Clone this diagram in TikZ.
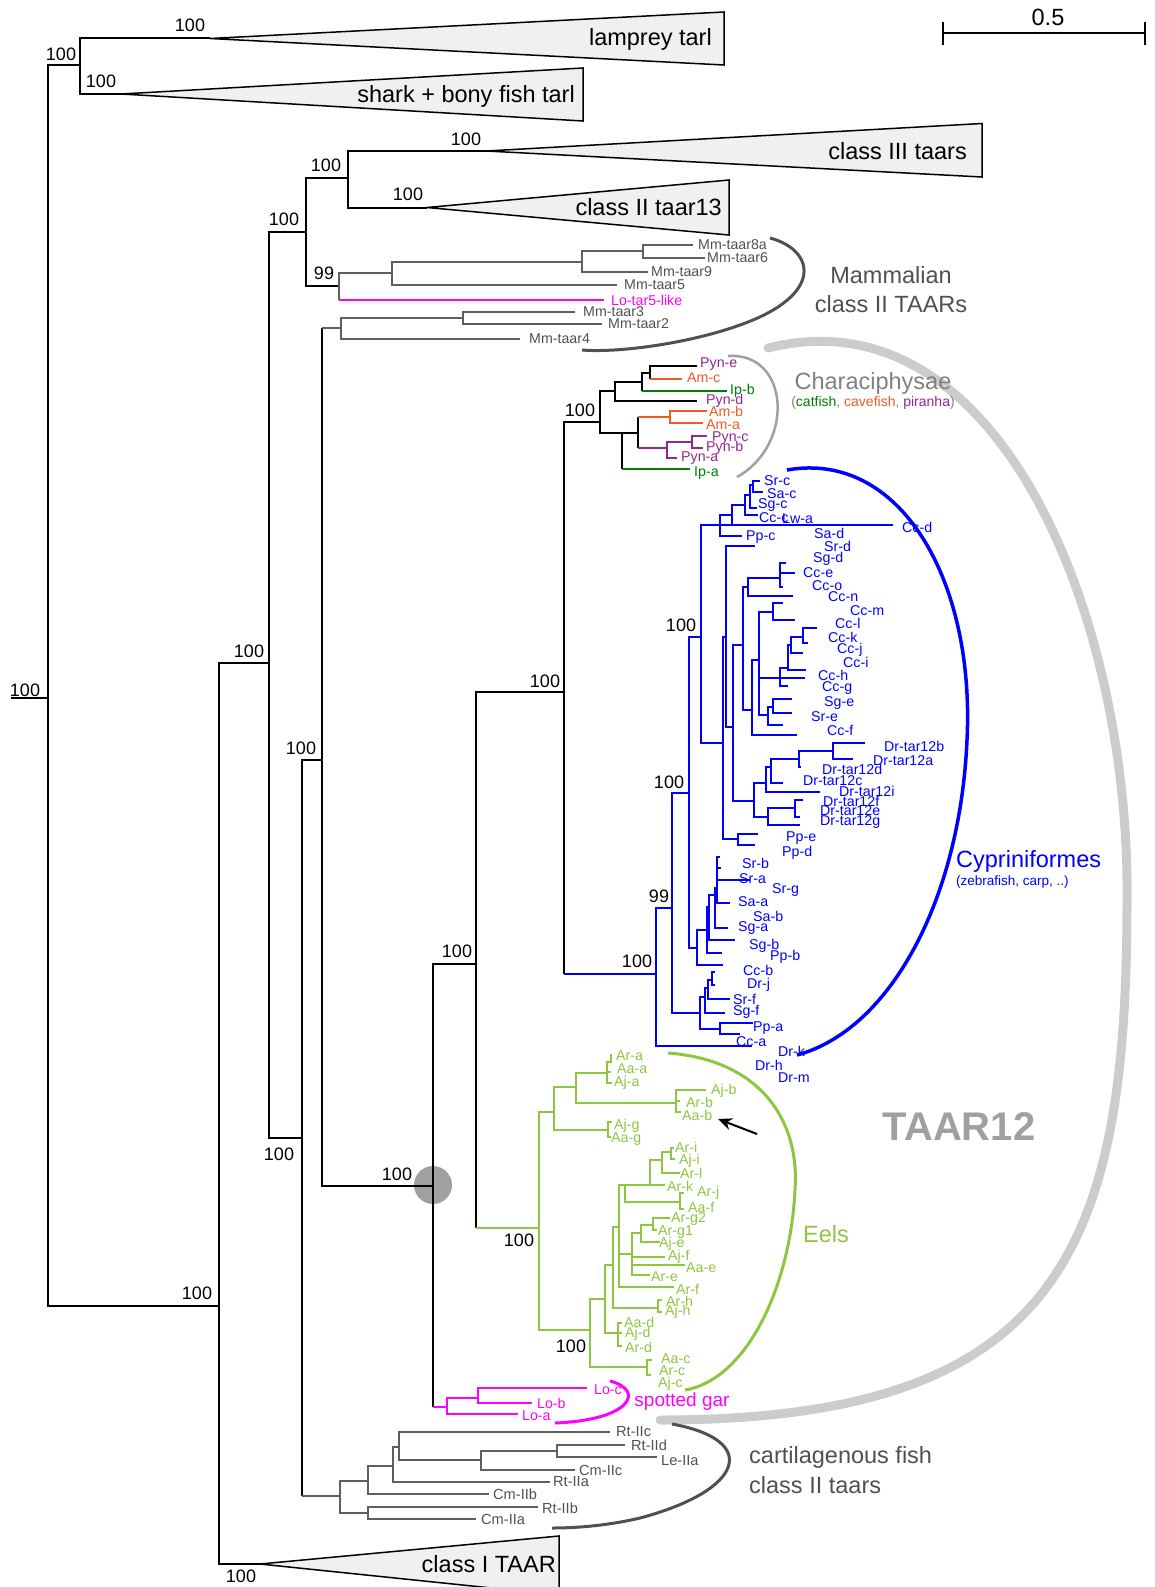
\documentclass[tikz,border=0pt]{standalone}
\usepackage{fontspec}
\setmainfont{Liberation Sans}
\usetikzlibrary{arrows.meta}
\definecolor{cblue}{RGB}{0,0,255}
\definecolor{cgreen}{RGB}{141,198,63}
\definecolor{cmag}{RGB}{255,0,255}
\definecolor{cgrey}{RGB}{95,95,95}
\definecolor{corange}{RGB}{241,90,34}
\definecolor{cpurple}{RGB}{146,39,143}
\definecolor{ccat}{RGB}{0,128,0}
\definecolor{tgrey}{RGB}{80,80,80}
\definecolor{lgrey}{RGB}{204,204,204}
\definecolor{mgrey}{RGB}{160,160,160}
\definecolor{fillg}{RGB}{240,240,240}
\newcounter{lc}
\newcommand\nd[6]{\draw[#1] (#3,#4) -- (#2,#4) -- (#2,#5) -- (#6,#5);}
\newcommand\lab[4][]{\stepcounter{lc}\node[lbl,text=#2,#1] (L\arabic{lc}) at (#3) {#4};}
\newcommand\bs[2]{\stepcounter{lc}\node[bst] (B\arabic{lc}) at (#1) {#2};}
\begin{document}
\begin{tikzpicture}[x=1pt,y=-1pt,
  k/.style={line width=2pt,black},
  g/.style={line width=2pt,cgrey},
  b/.style={line width=2pt,cblue},
  gr/.style={line width=2pt,cgreen},
  m/.style={line width=2pt,cmag},
  cv/.style={line width=2pt,corange},
  pu/.style={line width=2pt,cpurple},
  cf/.style={line width=2pt,ccat},
  tri/.style={draw=black,line width=1.5pt,fill=fillg},
  lbl/.style={font=\fontsize{14.2}{15}\selectfont,inner sep=0pt,anchor=west},
  bst/.style={font=\fontsize{18}{20}\selectfont,inner sep=0pt},
  big/.style={font=\fontsize{23.5}{26}\selectfont,inner sep=0pt}]
\useasboundingbox (0,0) rectangle (1155,1587);
% TAAR12 arc
\draw[lgrey,line width=9pt,line cap=round] (768,348) .. controls (1000,290) and (1130,620) .. (1127,900) .. controls (1127,1250) and (1060,1420) .. (660,1420);
\fill[mgrey] (433,1185) circle (19);
% triangles
\draw[tri] (210,38.5) -- (724,12) -- (724,65) -- cycle;
\draw[tri] (121,94) -- (583,68) -- (583,121) -- cycle;
\draw[tri] (486,151) -- (982,123.5) -- (982,177) -- cycle;
\draw[tri] (427,207.5) -- (729,180) -- (729,235) -- cycle;
\draw[tri] (260,1564) -- (559,1536) -- (559,1595) -- cycle;
\node[big,anchor=east] (t1) at (712,39) {lamprey tarl};
\node[big,anchor=east] (t2) at (575,96) {shark + bony fish tarl};
\node[big,anchor=east] (t3) at (967,151) {class III taars};
\node[big,anchor=east] (t4) at (722,207) {class II taar13};
\node[big,anchor=east] (t5) at (556,1564) {class I TAAR};
% backbone
\draw[k] (11,698) -- (48,698);
\nd{k}{48}{80}{65}{1306}{219}
\nd{k}{80}{210}{38.5}{94}{121}
\nd{k}{219}{269}{663}{1564}{260}
\nd{k}{269}{306}{232}{1138}{302}
\nd{k}{306}{348}{178}{286}{339}
\nd{k}{348}{486}{151}{207.5}{427}
\draw[k] (322,760) -- (302,760) -- (302,1496);
\draw[g] (302,1496) -- (340,1496);
\draw[k] (322,328) -- (322,1186) -- (433,1186);
\draw[g] (322,328) -- (341,328);
\draw[k] (476,964) -- (433,964) -- (433,1407);
\draw[m] (433,1407) -- (447,1407);
\draw[k] (564,692) -- (476,692) -- (476,1228);
\draw[gr] (476,1228) -- (539,1228);
\draw[k] (600,422) -- (564,422) -- (564,974);
\draw[b] (564,974) -- (656,974);
% mammalian
\draw[g] (392,273) -- (339,273) -- (339,300);
\draw[m] (339,300) -- (604,300);
\nd{g}{392}{582}{262}{285}{617}
\nd{g}{582}{643}{251}{272}{648}
\nd{g}{643}{693}{245}{258}{705}
\nd{g}{341}{463}{318}{339}{520}
\nd{g}{463}{575}{312}{324}{602}
\lab{tgrey}{698,245}{Mm-taar8a}
\lab{tgrey}{707,258}{Mm-taar6}
\lab{tgrey}{651,272}{Mm-taar9}
\lab{tgrey}{624,285}{Mm-taar5}
\lab{cmag}{611,300}{Lo-tar5-like}
\lab{tgrey}{583,312}{Mm-taar3}
\lab{tgrey}{608,324}{Mm-taar2}
\lab{tgrey}{529,339}{Mm-taar4}
\draw[tgrey,line width=3pt] (770,238) .. controls (815,250) and (825,295) .. (740,325) .. controls (690,343) and (620,353) .. (582,350);
\node[big,text=tgrey] (t6) at (891,275) {Mammalian};
\node[big,text=tgrey] (t7) at (891,304) {class II TAARs};
% characiphysae
\nd{k}{600}{615}{391}{433}{622}
\nd{k}{615}{642}{382}{401}{697}
\draw[k] (650,373) -- (642,373) -- (642,391);
\draw[cf] (642,391) -- (727,391);
\draw[k] (697,366) -- (650,366) -- (650,379);
\draw[cv] (650,379) -- (682,379);
\draw[k] (638,433) -- (622,433) -- (622,469);
\draw[cf] (622,469) -- (690,469);
\draw[k] (638,417) -- (638,448);
\draw[cv] (638,417) -- (670,417);
\draw[pu] (638,448) -- (667,448);
\nd{cv}{670}{707}{411}{423}{703}
\nd{pu}{667}{692}{442}{458}{677}
\nd{pu}{692}{707}{436}{448}{703}
\lab{cpurple}{700,364}{Pyn-e}
\lab{corange}{687,378}{Am-c}
\lab{ccat}{730,391}{Ip-b}
\lab{cpurple}{706,401}{Pyn-d}
\lab{corange}{709,411}{Am-b}
\lab{corange}{706,425}{Am-a}
\lab{cpurple}{712,438}{Pyn-c}
\lab{cpurple}{706,448}{Pyn-b}
\lab{cpurple}{681,458}{Pyn-a}
\lab{ccat}{694,473}{Ip-a}
\draw[mgrey,line width=2.5pt] (728,356) .. controls (790,352) and (795,445) .. (737,477);
\node[big,text=gray] (t8) at (873,383) {Characiphysae};
\node[font=\fontsize{14}{16}\selectfont,inner sep=0pt,text=gray] (t9) at (873,403) {(\textcolor{ccat}{catfish}, \textcolor{corange}{cavefish}, \textcolor{cpurple}{piranha})};
% cypriniformes
\nd{b}{656}{672}{908}{1046}{752}
\nd{b}{672}{689}{793}{1013}{700}
\nd{b}{689}{701}{637}{948}{697}
\nd{b}{701}{893}{525}{743}{723}
\nd{b}{720}{732}{515}{536}{742}
\draw[b] (745,505) -- (732,505) -- (732,525);
\nd{b}{745}{750}{495}{515}{758}
\nd{b}{750}{753}{485}{508}{757}
\nd{b}{753}{760}{481}{492}{763}
\nd{b}{723}{726}{637}{839}{738}
\nd{b}{726}{755}{546}{727}{733}
\nd{b}{733}{743}{645}{801}{754}
\nd{b}{743}{748}{587}{710}{752}
\nd{b}{748}{780}{578}{596}{793}
\nd{b}{780}{786}{563}{587}{783}
\draw[b] (780,573) -- (795,573);
\nd{b}{752}{759}{660}{735}{797}
\nd{b}{759}{773}{612}{715}{768}
\draw[b] (759,678) -- (805,678);
\nd{b}{773}{783}{603}{620}{795}
\nd{b}{768}{773}{707}{725}{783}
\nd{b}{773}{792}{699}{713}{792}
\nd{b}{780}{788}{668}{686}{788}
\nd{b}{788}{791}{645}{670}{806}
\nd{b}{791}{803}{637}{653}{803}
\nd{b}{803}{817}{628}{643}{808}
\nd{b}{754}{766}{783}{817}{768}
\nd{b}{766}{771}{767}{792}{820}
\nd{b}{771}{799}{759}{783}{783}
\nd{b}{799}{833}{751}{767}{801}
\nd{b}{833}{865}{743}{759}{853}
\nd{b}{768}{795}{808}{825}{800}
\nd{b}{795}{803}{800}{817}{800}
\nd{b}{738}{758}{834}{845}{755}
\nd{b}{697}{707}{930}{965}{723}
\nd{b}{707}{709}{907}{953}{722}
\nd{b}{709}{715}{895}{940}{735}
\nd{b}{715}{717}{888}{928}{728}
\nd{b}{717}{720}{857}{903}{730}
\draw[b] (717,880) -- (750,880);
\draw[b] (717,868) -- (721,868);
\nd{b}{700}{705}{997}{1029}{720}
\nd{b}{720}{753}{1023}{1034}{740}
\nd{b}{705}{708}{988}{1013}{725}
\nd{b}{708}{712}{980}{999}{730}
\nd{b}{712}{715}{972}{985}{715}
\lab{cblue}{764,481}{Sr-c}
\lab{cblue}{767,494}{Sa-c}
\lab{cblue}{758,505}{Sg-c}
\lab{cblue}{759,518}{Cc-c}
\lab{cblue}{782,519}{Lw-a}
\lab{cblue}{902,527}{Cc-d}
\lab{cblue}{746,537}{Pp-c}
\lab{cblue}{814,533}{Sa-d}
\lab{cblue}{824,546}{Sr-d}
\lab{cblue}{813,559}{Sg-d}
\lab{cblue}{803,573}{Cc-e}
\lab{cblue}{812,586}{Cc-o}
\lab{cblue}{828,597}{Cc-n}
\lab{cblue}{850,611}{Cc-m}
\lab{cblue}{835,623}{Cc-l}
\lab{cblue}{828,637}{Cc-k}
\lab{cblue}{837,650}{Cc-j}
\lab{cblue}{843,662}{Cc-i}
\lab{cblue}{818,675}{Cc-h}
\lab{cblue}{822,688}{Cc-g}
\lab{cblue}{824,703}{Sg-e}
\lab{cblue}{811,717}{Sr-e}
\lab{cblue}{827,730}{Cc-f}
\lab{cblue}{884,746}{Dr-tar12b}
\lab{cblue}{873,761}{Dr-tar12a}
\lab{cblue}{822,769}{Dr-tar12d}
\lab{cblue}{803,781}{Dr-tar12c}
\lab{cblue}{839,791}{Dr-tar12i}
\lab{cblue}{823,801}{Dr-tar12f}
\lab{cblue}{820,811}{Dr-tar12e}
\lab{cblue}{820,822}{Dr-tar12g}
\lab{cblue}{786,838}{Pp-e}
\lab{cblue}{782,853}{Pp-d}
\lab{cblue}{742,863}{Sr-b}
\lab{cblue}{739,879}{Sr-a}
\lab{cblue}{772,890}{Sr-g}
\lab{cblue}{738,902}{Sa-a}
\lab{cblue}{753,916}{Sa-b}
\lab{cblue}{738,928}{Sg-a}
\lab{cblue}{749,946}{Sg-b}
\lab{cblue}{770,957}{Pp-b}
\lab{cblue}{743,970}{Cc-b}
\lab{cblue}{747,985}{Dr-j}
\lab{cblue}{733,999}{Sr-f}
\lab{cblue}{733,1012}{Sg-f}
\lab{cblue}{753,1028}{Pp-a}
\lab{cblue}{736,1042}{Cc-a}
\lab{cblue}{778,1051}{Dr-k}
\lab{cblue}{755,1065}{Dr-h}
\lab{cblue}{778,1078}{Dr-m}
\draw[cblue,line width=3.5pt] (787,470) .. controls (900,450) and (975,580) .. (967,740) .. controls (960,900) and (890,1030) .. (797,1055);
\node[big,text=cblue,anchor=west] (t10) at (956,861) {Cypriniformes};
\node[font=\fontsize{13.5}{15}\selectfont,inner sep=0pt,text=cblue,anchor=west] (t11) at (956,882) {(zebrafish, carp, ..)};
% eels
\nd{gr}{539}{554}{1112}{1330}{590}
\nd{gr}{554}{576}{1087}{1130}{608}
\nd{gr}{576}{607}{1073}{1103}{676}
\nd{gr}{607}{612}{1062}{1083}{612}
\draw[gr] (607,1072) -- (611,1072);
\draw[gr] (611,1054) -- (611,1062);
\nd{gr}{676}{706}{1090}{1112}{681}
\draw[gr] (676,1101) -- (680,1101);
\nd{gr}{608}{612}{1122}{1137}{611}
\nd{gr}{590}{605}{1299}{1367}{647}
\nd{gr}{647}{652}{1360}{1375}{651}
\nd{gr}{605}{613}{1265}{1333}{618}
\nd{gr}{618}{622}{1323}{1346}{622}
\draw[gr] (618,1333) -- (622,1333);
\nd{gr}{613}{619}{1227}{1308}{658}
\nd{gr}{658}{662}{1300}{1312}{662}
\nd{gr}{619}{625}{1185}{1287}{674}
\draw[gr] (619,1254) -- (632,1254);
\nd{gr}{632}{641}{1233}{1275}{650}
\draw[gr] (632,1257) -- (665,1257);
\draw[gr] (632,1265) -- (685,1265);
\nd{gr}{641}{653}{1225}{1242}{660}
\nd{gr}{653}{670}{1218}{1230}{657}
\nd{gr}{625}{650}{1185}{1202}{680}
\nd{gr}{680}{684}{1193}{1209}{684}
\nd{gr}{650}{662}{1160}{1185}{665}
\nd{gr}{662}{671}{1152}{1173}{680}
\nd{gr}{671}{674}{1148}{1159}{675}
\lab{cgreen}{616,1056}{Ar-a}
\lab{cgreen}{617,1069}{Aa-a}
\lab{cgreen}{614,1083}{Aj-a}
\lab{cgreen}{711,1091}{Aj-b}
\lab{cgreen}{686,1102}{Ar-b}
\lab{cgreen}{682,1115}{Aa-b}
\lab{cgreen}{614,1126}{Aj-g}
\lab{cgreen}{611,1139}{Aa-g}
\lab{cgreen}{675,1147}{Ar-i}
\lab{cgreen}{679,1161}{Aj-i}
\lab{cgreen}{680,1173}{Ar-l}
\lab{cgreen}{667,1186}{Ar-k}
\lab{cgreen}{697,1193}{Ar-j}
\lab{cgreen}{688,1207}{Aa-f}
\lab{cgreen}{671,1219}{Ar-g2}
\lab{cgreen}{658,1232}{Ar-g1}
\lab{cgreen}{659,1244}{Aj-e}
\lab{cgreen}{668,1257}{Aj-f}
\lab{cgreen}{686,1268}{Aa-e}
\lab{cgreen}{651,1277}{Ar-e}
\lab{cgreen}{676,1289}{Ar-f}
\lab{cgreen}{666,1301}{Ar-h}
\lab{cgreen}{665,1312}{Aj-h}
\lab{cgreen}{624,1322}{Aa-d}
\lab{cgreen}{625,1334}{Aj-d}
\lab{cgreen}{625,1347}{Ar-d}
\lab{cgreen}{661,1359}{Aa-c}
\lab{cgreen}{659,1371}{Ar-c}
\lab{cgreen}{658,1384}{Aj-c}
\draw[cgreen,line width=3pt] (668,1053) .. controls (760,1060) and (800,1120) .. (795,1190) .. controls (790,1290) and (745,1380) .. (685,1390);
\node[big,text=cgreen] (t12) at (826,1234) {Eels};
\coordinate (arA) at (757,1134);
\coordinate (arB) at (718,1119);
\draw[line width=2pt,-{Stealth[length=14pt,width=12pt]}] (arA) -- (arB);
% spotted gar
\nd{m}{447}{478}{1398}{1414}{518}
\nd{m}{478}{587}{1388}{1403}{532}
\lab{cmag}{594,1390}{Lo-c}
\lab{cmag}{537,1403}{Lo-b}
\lab{cmag}{522,1416}{Lo-a}
\draw[cmag,line width=3pt] (610,1381) .. controls (645,1390) and (632,1420) .. (555,1423);
\node[font=\fontsize{19}{21}\selectfont,inner sep=0pt,text=cmag] (t13) at (682,1402) {spotted gar};
% cartilaginous
\nd{g}{340}{368}{1481}{1513}{368}
\nd{g}{368}{393}{1466}{1494}{489}
\nd{g}{368}{538}{1507}{1519}{476}
\nd{g}{393}{399}{1447}{1482}{550}
\nd{g}{399}{610}{1432}{1460}{481}
\nd{g}{481}{557}{1451}{1470}{575}
\nd{g}{557}{625}{1445}{1457}{657}
\lab[font=\fontsize{14.6}{16}\selectfont]{tgrey}{616,1432}{Rt-IIc}
\lab[font=\fontsize{14.6}{16}\selectfont]{tgrey}{631,1445}{Rt-IId}
\lab[font=\fontsize{14.6}{16}\selectfont]{tgrey}{661,1461}{Le-IIa}
\lab[font=\fontsize{14.6}{16}\selectfont]{tgrey}{579,1470}{Cm-IIc}
\lab[font=\fontsize{14.6}{16}\selectfont]{tgrey}{553,1482}{Rt-IIa}
\lab[font=\fontsize{14.6}{16}\selectfont]{tgrey}{493,1494}{Cm-IIb}
\lab[font=\fontsize{14.6}{16}\selectfont]{tgrey}{542,1508}{Rt-IIb}
\lab[font=\fontsize{14.6}{16}\selectfont]{tgrey}{481,1519}{Cm-IIa}
\draw[tgrey,line width=3pt] (672,1424) .. controls (760,1440) and (745,1490) .. (640,1518) .. controls (610,1525) and (580,1528) .. (552,1528);
\node[big,text=tgrey,anchor=west] (t14) at (749,1457) {cartilagenous fish};
\node[big,text=tgrey,anchor=west] (t15) at (749,1485) {class II taars};
\node[font=\fontsize{40}{44}\bfseries\selectfont,inner sep=0pt,text=mgrey] (t16) at (959,1127) {TAAR12};
% scale bar
\draw[k] (943,33.5) -- (1145,33.5);
\draw[k] (943,22) -- (943,45);
\draw[k] (1145,22) -- (1145,45);
\node[big] (t17) at (1048,17) {0.5};
% bootstrap
\bs{25,690}{100}
\bs{61,54}{100}
\bs{190,25}{100}
\bs{101,81}{100}
\bs{466,139}{100}
\bs{408,194}{100}
\bs{326,165}{100}
\bs{284,219}{100}
\bs{324,273}{99}
\bs{249,651}{100}
\bs{197,1293}{100}
\bs{241,1576}{100}
\bs{279,1154}{100}
\bs{301,748}{100}
\bs{397,1174}{100}
\bs{457,951}{100}
\bs{545,681}{100}
\bs{580,410}{100}
\bs{519,1240}{100}
\bs{571,1346}{100}
\bs{637,961}{100}
\bs{659,896}{99}
\bs{669,782}{100}
\bs{681,625}{100}
\end{tikzpicture}
\end{document}
